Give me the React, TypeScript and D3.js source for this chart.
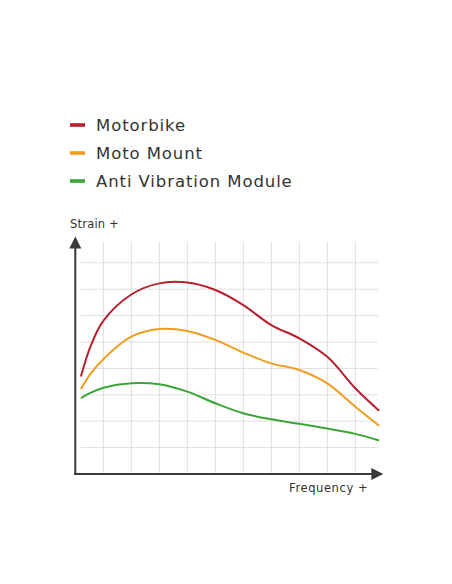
import React, { useEffect, useRef } from 'react';
import * as d3 from 'd3';

// series names / colours
const SERIES = ['Motorbike', 'Moto Mount', 'Anti Vibration Module'];
const COLORS = ['#b71f2c', '#f09d22', '#3ba638'];

// x in grid columns, y in grid rows
const FREQ = [0.2, 0.55, 1, 2, 3, 4, 5, 6, 7, 8, 9, 10, 10.85];
const MOTORBIKE = [3.69, 4.85, 5.8, 6.8, 7.22, 7.25, 6.97, 6.4, 5.64, 5.14, 4.44, 3.25, 2.4];
const MOTO_MOUNT = [3.22, 3.8, 4.35, 5.2, 5.49, 5.42, 5.08, 4.6, 4.19, 3.94, 3.43, 2.55, 1.83];
const ANTI_VIB = [2.87, 3.08, 3.27, 3.44, 3.4, 3.12, 2.68, 2.3, 2.07, 1.9, 1.72, 1.52, 1.27];

const X_GRID = [1, 2, 3, 4, 5, 6, 7, 8, 9, 10];
const Y_GRID = [1, 2, 3, 4, 5, 6, 7, 8];

const App: React.FC = () => {
  const svgRef = useRef<SVGSVGElement>(null);

  useEffect(() => {
    if (!svgRef.current) return;
    const width = 452;
    const height = 584;
    const font = '"DejaVu Sans", sans-serif';

    const svg = d3.select(svgRef.current)
      .attr('width', width)
      .attr('height', height)
      .html('');

    svg.append('rect').attr('width', width).attr('height', height).attr('fill', '#fff');

    const x = d3.scaleLinear().domain([0, 11]).range([75.3, 383.3]);
    const y = d3.scaleLinear().domain([0, 9]).range([474, 236.4]);

    // grid
    svg.append('g').selectAll('line')
      .data(Y_GRID).enter().append('line')
      .attr('x1', x(0.2)).attr('x2', x(10.8))
      .attr('y1', d => y(d)).attr('y2', d => y(d))
      .attr('stroke', '#dedede').attr('stroke-width', 1);
    svg.append('g').selectAll('line')
      .data(X_GRID).enter().append('line')
      .attr('x1', d => x(d)).attr('x2', d => x(d))
      .attr('y1', y(0)).attr('y2', y(8.8))
      .attr('stroke', '#dedede').attr('stroke-width', 1);

    // curves
    const data = [MOTORBIKE, MOTO_MOUNT, ANTI_VIB];
    const line = d3.line<number>()
      .x((_, i) => x(FREQ[i]))
      .y(d => y(d))
      .curve(d3.curveCatmullRom.alpha(0.5));
    data.forEach((vals, i) => {
      svg.append('path')
        .attr('d', line(vals))
        .attr('fill', 'none')
        .attr('stroke', COLORS[i])
        .attr('stroke-width', 2);
    });

    // axes
    const axisColor = '#3a3a3a';
    svg.append('line')
      .attr('x1', x(0)).attr('x2', x(0))
      .attr('y1', y(0) + 1).attr('y2', y(8.6))
      .attr('stroke', axisColor).attr('stroke-width', 2);
    svg.append('line')
      .attr('x1', x(0) - 1).attr('x2', x(10.6))
      .attr('y1', y(0)).attr('y2', y(0))
      .attr('stroke', axisColor).attr('stroke-width', 2);
    svg.append('path')
      .attr('d', `M${x(0)},${y(9)} L${x(0) - 6},${y(9) + 12} L${x(0) + 6},${y(9) + 12} Z`)
      .attr('fill', axisColor);
    svg.append('path')
      .attr('d', `M${x(11)},${y(0)} L${x(11) - 12},${y(0) - 6} L${x(11) - 12},${y(0) + 6} Z`)
      .attr('fill', axisColor);

    svg.append('text')
      .attr('x', 70).attr('y', 228.3)
      .attr('font-family', font).attr('font-size', 11.5).attr('fill', '#333')
      .attr('letter-spacing', 0.2)
      .text('Strain +');
    svg.append('text')
      .attr('x', 289).attr('y', 492.3)
      .attr('font-family', font).attr('font-size', 11.5).attr('fill', '#333')
      .attr('letter-spacing', 0.6)
      .text('Frequency +');

    // legend
    const legend = svg.append('g').selectAll('g')
      .data(SERIES).enter().append('g')
      .attr('transform', (_, i) => `translate(70, ${130.7 + i * 28})`);
    legend.append('rect')
      .attr('x', 0).attr('y', -7.5).attr('width', 15).attr('height', 3.6)
      .attr('fill', (_, i) => COLORS[i]);
    legend.append('text')
      .attr('x', 26).attr('y', 0)
      .attr('font-family', font).attr('font-size', 16.5).attr('fill', '#333')
      .attr('letter-spacing', 0.9)
      .text(d => d);
  }, []);

  return (
    <svg ref={svgRef} style={{ position: 'absolute', left: 0, top: 0, display: 'block' }}></svg>
  );
};

export default App;
